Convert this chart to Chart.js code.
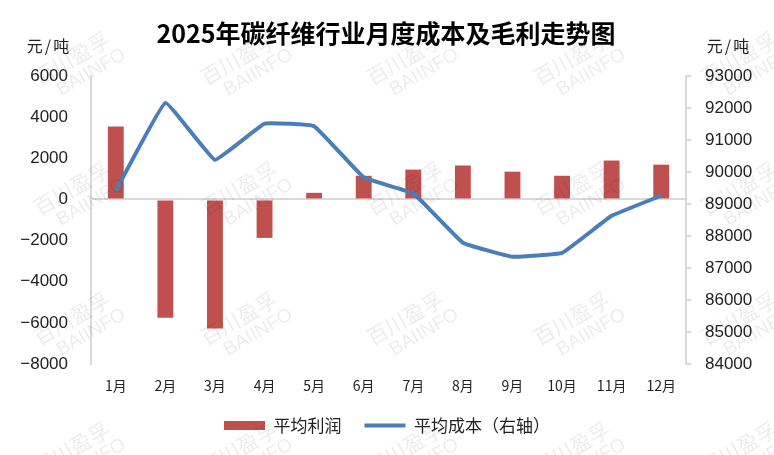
<!DOCTYPE html>
<html>
<head>
<meta charset="utf-8">
<script src="https://cdn.jsdelivr.net/npm/chart.js@4.4.1/dist/chart.umd.min.js"></script>
<style>
  html, body { margin: 0; padding: 0; background: #fff; }
  #wrap { position: relative; width: 774px; height: 455px; }
</style>
</head>
<body>
<div id="wrap"><canvas id="costChart" width="774" height="455"></canvas></div>
<script>
// data
var months = ['1月', '2月', '3月', '4月', '5月', '6月', '7月', '8月', '9月', '10月', '11月', '12月'];
var avgProfit = [3550, -5750, -6270, -1870, 320, 1150, 1450, 1650, 1350, 1150, 1890, 1690];
var avgCost = [89410, 92160, 90380, 91510, 91430, 89830, 89330, 87790, 87350, 87470, 88630, 89260];
var leftRange = [-8000, 6000, 2000];    // min, max, step
var rightRange = [84000, 93000, 1000];  // min, max, step

var TITLE = '2025年碳纤维行业月度成本及毛利走势图';
var UNIT = '元/吨';
var sansFont = '"Liberation Sans", Arial, "Noto Sans CJK SC", sans-serif';
var cjkFont = '"Noto Sans CJK SC", sans-serif';

// title, unit labels and the faint watermark
var decorations = {
  id: 'decorations',
  beforeDraw: function (chart) {
    var ctx = chart.ctx;
    ctx.save();
    ctx.fillStyle = '#fff';
    ctx.fillRect(0, 0, chart.width, chart.height);
    ctx.restore();
  },
  afterDraw: function (chart) {
    var ctx = chart.ctx;
    ctx.save();
    ctx.fillStyle = '#000';
    ctx.textAlign = 'center';
    ctx.textBaseline = 'middle';
    ctx.font = 'bold 25px ' + cjkFont;
    ctx.fillText(TITLE, 386, 33);

    ctx.font = '16px ' + cjkFont;
    ctx.fillStyle = '#222';
    ctx.letterSpacing = '2px';
    ctx.fillText(UNIT, 49, 46);
    ctx.fillText(UNIT, 729, 46);
    ctx.letterSpacing = '0px';

    // watermark
    var cols = [80, 247, 413, 580, 747];
    var rows = [65, 195, 325, 455];
    ctx.fillStyle = 'rgba(0,0,0,0.08)';
    rows.forEach(function (wy) {
      cols.forEach(function (wx) {
        ctx.save();
        ctx.translate(wx, wy);
        ctx.rotate(-Math.PI / 6);
        ctx.font = '21px ' + cjkFont;
        ctx.fillText('百川盈孚', -4, -10);
        ctx.font = '19px ' + sansFont;
        ctx.fillText('BAIINFO', 6, 12);
        ctx.restore();
      });
    });
    ctx.restore();
  }
};

// no thousands separators, typographic minus like the original
function plain(v) { return v < 0 ? '\u2212' + Math.abs(v) : String(v); }

var ctx = document.getElementById('costChart').getContext('2d');
var chart = new Chart(ctx, {
  data: {
    labels: months,
    datasets: [{
      type: 'line',
      label: '平均成本（右轴）',
      data: avgCost,
      yAxisID: 'yRight',
      borderColor: '#4A7EBB',
      backgroundColor: '#4A7EBB',
      borderWidth: 4,
      pointRadius: 0,
      tension: 0.08,
      order: 1
    }, {
      type: 'bar',
      label: '平均利润',
      data: avgProfit,
      yAxisID: 'yLeft',
      backgroundColor: '#C0504D',
      borderWidth: 0,
      categoryPercentage: 1,
      barPercentage: 0.32,
      order: 2
    }]
  },
  options: {
    responsive: false,
    animation: false,
    layout: { padding: { top: 76, left: 0, right: 0, bottom: 11 } },
    plugins: {
      title: { display: false },
      tooltip: { enabled: false },
      legend: {
        position: 'bottom',
        reverse: true,
        labels: {
          usePointStyle: true,
          pointStyleWidth: 41,
          boxHeight: 9,
          padding: 23,
          color: '#222',
          font: { family: cjkFont, size: 17 },
          generateLabels: function (chart) {
            var items = Chart.defaults.plugins.legend.labels.generateLabels(chart);
            items.forEach(function (it) {
              var ds = chart.data.datasets[it.datasetIndex];
              it.pointStyle = ds.type === 'line' ? 'line' : 'rect';
            });
            return items;
          }
        }
      }
    },
    scales: {
      x: {
        grid: { display: false },
        border: { display: false },
        ticks: { color: '#222', padding: 5, font: { family: cjkFont, size: 14 }, maxRotation: 0 },
        afterFit: function (scale) { scale.height = 30; }
      },
      yLeft: {
        position: 'left',
        min: leftRange[0],
        max: leftRange[1],
        ticks: { stepSize: leftRange[2], callback: plain, color: '#222', padding: 23, font: { family: sansFont, size: 17 } },
        grid: {
          drawTicks: false,
          lineWidth: 2,
          color: function (c) { return c.tick && c.tick.value === 0 ? '#D9D9D9' : 'rgba(0,0,0,0)'; }
        },
        border: { display: true, color: '#D9D9D9', width: 2 },
        afterFit: function (scale) { scale.width = 91; }
      },
      yRight: {
        position: 'right',
        min: rightRange[0],
        max: rightRange[1],
        ticks: { stepSize: rightRange[2], callback: plain, color: '#222', padding: 14, font: { family: sansFont, size: 17 } },
        grid: { drawOnChartArea: false, drawTicks: true, tickLength: 5, color: '#D9D9D9', lineWidth: 2 },
        border: { display: true, color: '#D9D9D9', width: 2 },
        afterFit: function (scale) { scale.width = 88; }
      }
    }
  },
  plugins: [decorations]
});
</script>
</body>
</html>
